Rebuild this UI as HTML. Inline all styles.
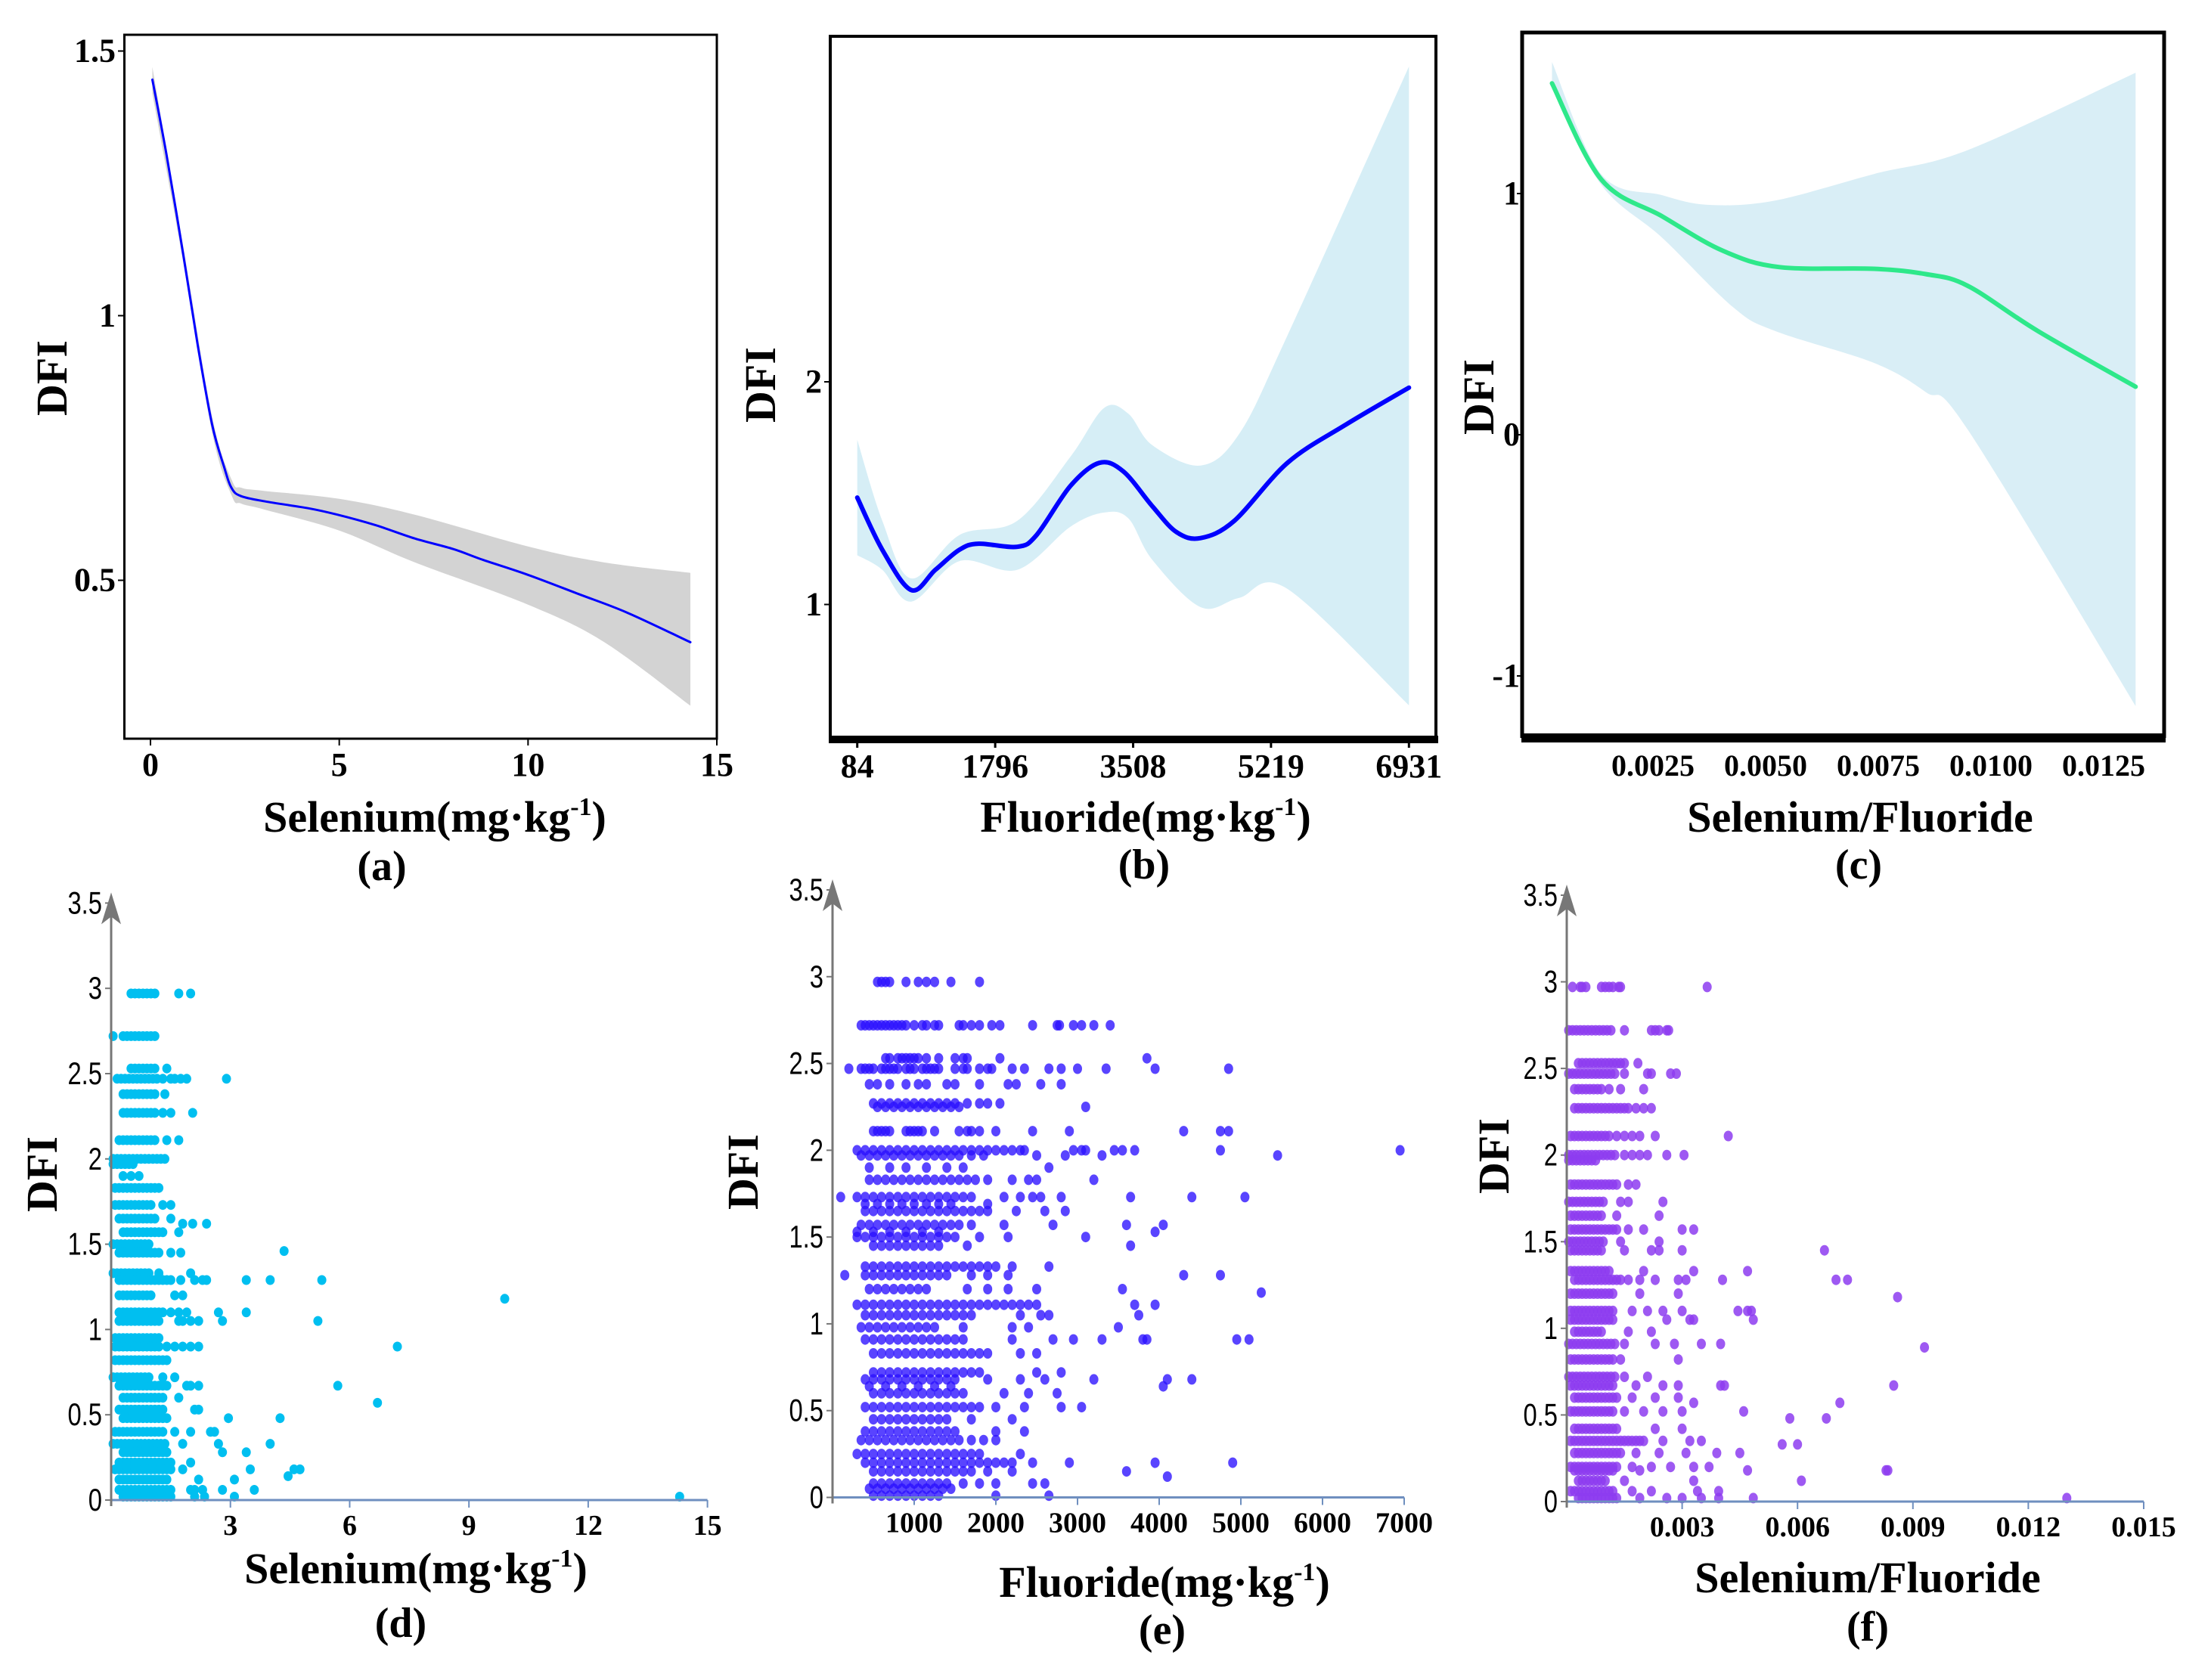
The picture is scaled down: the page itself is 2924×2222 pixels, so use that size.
<!DOCTYPE html>
<html><head><meta charset="utf-8"><style>
html,body{margin:0;padding:0;background:#fff;}
svg{display:block;}
.ser{font-family:"Liberation Serif",serif;font-weight:bold;fill:#000;}
.san{font-family:"Liberation Sans Narrow","Liberation Sans",sans-serif;fill:#000;}
</style></head><body>
<svg id="fig" width="2924" height="2222" viewBox="0 0 2924 2222" xmlns="http://www.w3.org/2000/svg">
<rect width="2924" height="2222" fill="#fff"/>
<g id="pa"></g>
<g id="pb"></g>
<g id="pc"></g>
<g id="pd"></g>
<g id="pe"></g>
<g id="pf"></g>
</svg>
<script>
// ---------- Panel (a) data ----------
const aX = [0.05,0.42,0.87,1.25,1.63,1.95,2.15,2.4,3.04,4.19,4.95,5.97,7.0,8.02,8.79,9.97,11.34,12.62,14.3];
const aY = [1.446,1.306,1.115,0.945,0.795,0.714,0.674,0.659,0.649,0.636,0.624,0.604,0.579,0.559,0.539,0.511,0.474,0.439,0.383];
const aBandX = [0.05,0.87,1.63,2.15,2.4,3.0,5.0,7.0,10.0,12.0,14.3];
const aBandHi = [1.47,1.13,0.81,0.69,0.675,0.669,0.654,0.624,0.564,0.534,0.514];
const aBandLo = [1.42,1.10,0.78,0.66,0.645,0.634,0.594,0.534,0.454,0.384,0.263];
const aXTicks = [0,5,10,15];
const aYTicks = [0.5,1,1.5];
const aYTickLabels = ['0.5','1','1.5'];
// ---------- Panel (b) data ----------
const bX = [84,395,754,1054,1353,1592,2071,2310,2729,3088,3388,3747,4046,4345,4764,5423,6141,6931];
const bY = [1.48,1.246,1.065,1.156,1.246,1.273,1.259,1.312,1.532,1.636,1.597,1.441,1.325,1.298,1.376,1.636,1.806,1.974];
const bBandX = [84,395,754,1353,2071,2729,3148,3448,3747,4345,4824,5423,6931];
const bBandHi = [1.74,1.376,1.117,1.312,1.376,1.663,1.883,1.857,1.715,1.624,1.766,2.208,3.416];
const bBandLo = [1.221,1.156,1.013,1.195,1.156,1.349,1.413,1.387,1.20,0.988,1.03,1.07,0.547];
const bXTicks = [84,1796,3508,5219,6931];
const bYTicks = [1,2];
// ---------- Panel (c) data (x in units of 0.001) ----------
const cX = [0.26,1.35,2.71,4.06,5.31,7.40,8.55,9.48,11.04,13.21];
const cY = [1.457,1.059,0.905,0.762,0.695,0.688,0.666,0.618,0.430,0.199];
const cHiX = [0.26,1.35,2.71,3.75,5.21,7.40,9.48,13.21];
const cBandHi = [1.545,1.081,0.993,0.953,0.971,1.081,1.18,1.501];
const cLoX = [0.26,1.35,2.71,4.27,5.21,7.40,8.55,9.48,13.21];
const cBandLo = [1.435,1.037,0.816,0.53,0.43,0.298,0.177,0.023,-1.125];
const cXTicks = [2.5,5.0,7.5,10.0,12.5];
const cXTickLabels = ['0.0025','0.0050','0.0075','0.0100','0.0125'];
const cYTicks = [-1,0,1];
// ---------- Panel (d) scatter rows ----------
const dRowY = [2.97,2.72,2.53,2.47,2.38,2.27,2.11,2.0,1.97,1.9,1.83,1.73,1.65,1.62,1.57,1.5,1.46,1.45,1.33,1.29,1.2,1.18,1.1,1.05,0.95,0.9,0.82,0.72,0.67,0.6,0.57,0.53,0.48,0.4,0.33,0.28,0.22,0.18,0.14,0.12,0.06,0.02];
const dRowX = [
[0.5,0.6,0.7,0.8,0.9,1.0,1.1,1.7,2.0],
[0.05,0.3,0.4,0.5,0.6,0.7,0.8,0.9,1.0,1.1],
[0.5,0.6,0.7,0.8,0.9,1.0,1.1,1.4],
[0.15,0.25,0.35,0.45,0.55,0.65,0.75,0.85,0.95,1.05,1.15,1.3,1.5,1.6,1.75,1.9,2.9],
[0.3,0.4,0.5,0.6,0.7,0.8,0.9,1.0,1.1,1.35],
[0.3,0.4,0.5,0.6,0.7,0.8,0.9,1.0,1.1,1.3,1.5,2.05],
[0.2,0.3,0.4,0.5,0.6,0.7,0.8,0.9,1.0,1.1,1.4,1.7],
[0.05,0.15,0.25,0.35,0.45,0.55,0.65,0.75,0.85,0.95,1.05,1.15,1.25,1.35],
[0.05,0.15,0.25,0.35,0.45,0.55],
[0.3,0.5,0.7],
[0.1,0.2,0.3,0.4,0.5,0.6,0.7,0.8,0.9,1.0,1.1,1.2],
[0.1,0.2,0.3,0.4,0.5,0.6,0.7,0.8,0.9,1.0,1.3,1.5],
[0.2,0.3,0.4,0.5,0.6,0.7,0.8,0.9,1.0,1.1,1.5],
[1.8,2.05,2.4],
[0.3,0.4,0.5,0.6,0.7,0.8,0.9,1.0,1.1,1.2,1.3,1.7],
[0.05,0.15,0.25,0.35,0.45,0.55,0.65,0.75,0.85,0.95],
[4.35],
[0.2,0.3,0.4,0.5,0.6,0.7,0.8,0.9,1.0,1.1,1.2,1.5,1.75],
[0.05,0.15,0.25,0.35,0.45,0.55,0.65,0.75,0.85,0.95,1.2,2.0],
[0.2,0.3,0.4,0.5,0.6,0.7,0.8,0.9,1.0,1.1,1.2,1.3,1.4,1.5,1.75,2.1,2.3,2.4,3.4,4.0,5.3],
[0.2,0.3,0.4,0.5,0.6,0.7,0.8,0.9,1.0,1.6,1.8],
[9.9],
[0.2,0.3,0.4,0.5,0.6,0.7,0.8,0.9,1.0,1.1,1.2,1.3,1.5,1.7,1.9,2.7,3.4],
[0.2,0.3,0.4,0.5,0.6,0.7,0.8,0.9,1.0,1.1,1.2,1.7,1.8,2.0,2.2,2.8,5.2],
[0.1,0.2,0.3,0.4,0.5,0.6,0.7,0.8,0.9,1.0,1.1,1.2],
[0.1,0.2,0.3,0.4,0.5,0.6,0.7,0.8,0.9,1.0,1.1,1.2,1.4,1.6,1.8,2.0,2.2,7.2],
[0.1,0.2,0.3,0.4,0.5,0.6,0.7,0.8,0.9,1.0,1.1,1.2,1.3,1.4],
[0.05,0.15,0.25,0.35,0.45,0.55,0.65,0.75,0.85,0.95,1.3,1.6],
[0.2,0.3,0.4,0.5,0.6,0.7,0.8,0.9,1.0,1.1,1.2,1.3,1.4,1.9,2.0,2.2,5.7],
[0.3,0.4,0.5,0.6,0.7,0.8,0.9,1.0,1.1,1.2,1.3,1.7],
[6.7],
[0.2,0.3,0.4,0.5,0.6,0.7,0.8,0.9,1.0,1.1,1.2,1.3,2.1,2.2],
[0.3,0.4,0.5,0.6,0.7,0.8,0.9,1.0,1.1,1.2,1.3,1.4,2.95,4.25],
[0.1,0.2,0.3,0.4,0.5,0.6,0.7,0.8,0.9,1.0,1.1,1.2,1.3,1.6,2.0,2.5,2.6],
[0.05,0.15,0.25,0.35,0.45,0.55,0.65,0.75,0.85,0.95,1.05,1.15,1.25,1.35,1.8,2.7,4.0],
[0.3,0.4,0.5,0.6,0.7,0.8,0.9,1.0,1.1,1.2,1.3,1.4,2.8,3.4],
[0.2,0.3,0.4,0.5,0.6,0.7,0.8,0.9,1.0,1.1,1.2,1.3,1.4,1.5,2.0],
[0.1,0.2,0.3,0.4,0.5,0.6,0.7,0.8,0.9,1.0,1.1,1.2,1.3,1.4,1.5,1.8,3.5,4.6,4.75],
[4.45],
[0.2,0.3,0.4,0.5,0.6,0.7,0.8,0.9,1.0,1.1,1.2,1.3,1.4,2.2,3.1],
[0.2,0.3,0.4,0.5,0.6,0.7,0.8,0.9,1.0,1.1,1.2,1.3,1.4,1.5,2.0,2.1,2.3,2.8,3.6],
[0.3,0.4,0.5,0.6,0.7,0.8,0.9,1.0,1.1,1.2,1.3,1.4,1.5,2.1,2.35,3.1,14.3]
];
const dXTicks = [3,6,9,12,15];
// ---------- Panel (e) scatter rows ----------
const eRowY = [2.97,2.72,2.53,2.47,2.38,2.27,2.25,2.11,2.0,1.97,1.9,1.83,1.73,1.69,1.65,1.57,1.53,1.5,1.45,1.33,1.28,1.2,1.18,1.11,1.05,0.98,0.91,0.83,0.72,0.68,0.64,0.6,0.52,0.45,0.38,0.33,0.25,0.2,0.15,0.12,0.08,0.05,0.01];
const eRowX = [
[550,600,650,700,900,1050,1150,1250,1450,1800],
[350,400,450,500,550,600,650,700,750,800,850,900,1000,1100,1150,1250,1300,1550,1600,1700,1800,1950,2050,2450,2750,2780,2950,3050,3200,3400],
[650,700,800,850,900,950,1000,1050,1150,1300,1500,1600,1650,2050,3850],
[200,350,400,450,500,600,650,700,750,800,900,950,1000,1100,1150,1200,1250,1300,1500,1600,1650,1800,1900,1950,2200,2350,2650,2800,3000,3350,3950,4850],
[450,550,700,900,1050,1150,1400,1500,1800,2150,2250,2550,2800],
[500,600,700,800,900,1000,1100,1200,1300,1400,1500,1650,1800,1900,2050],
[550,650,750,850,950,1050,1150,1250,1350,1450,1550,3100],
[500,550,600,650,700,900,950,1000,1050,1100,1250,1550,1650,1700,1800,2000,2450,2900,4300,4750,4850],
[300,400,500,600,700,800,900,1000,1100,1200,1300,1400,1500,1600,1700,1800,1900,2000,2100,2200,2300,2350,2950,3050,3100,3450,3550,3700,4750,6950],
[350,450,550,650,750,850,950,1050,1150,1250,1350,1450,1550,1700,1850,2500,2850,3300,5450],
[450,700,900,1150,1400,1600,2650],
[450,550,650,750,850,950,1050,1150,1250,1350,1450,1550,1650,1750,1900,2200,2400,2500,3200],
[100,300,400,500,600,700,800,900,1000,1100,1200,1300,1400,1500,1600,1700,2100,2300,2450,2550,2800,3650,4400,5050],
[400,550,700,850,1000,1150,1300,1450,1900],
[400,500,600,700,800,900,1000,1100,1200,1300,1400,1500,1600,1700,1800,1900,2250,2600,2850],
[350,450,550,650,750,850,950,1050,1150,1250,1350,1450,1550,1700,2100,2700,3600,4050],
[300,500,700,900,1100,1300,3950],
[300,400,500,600,700,800,900,1000,1100,1200,1300,1400,1500,1800,2150,3100],
[500,600,700,800,900,1000,1100,1200,1300,1650,3650],
[400,500,600,700,800,900,1000,1100,1200,1300,1400,1500,1600,1700,1800,1900,2000,2200,2650],
[150,400,500,600,700,800,900,1000,1100,1200,1300,1400,1700,1900,2150,4300,4750],
[450,550,650,750,850,950,1050,1150,1650,1900,2150,2500,3550],
[5250],
[300,400,500,600,700,800,900,1000,1100,1200,1300,1400,1500,1600,1700,1800,1900,2000,2100,2200,2300,2400,2500,3700,3950],
[400,500,600,700,800,900,1000,1100,1200,1300,1400,1500,1600,1700,2300,2550,2650,3750],
[350,450,550,650,750,850,950,1050,1150,1250,1600,2200,2400,3500],
[400,500,600,700,800,900,1000,1100,1200,1300,1400,1500,1600,2200,2700,2950,3300,3800,3850,4950,5100],
[500,600,700,800,900,1000,1100,1200,1300,1400,1500,1600,1700,1800,1900,2300,2500],
[500,600,700,800,900,1000,1100,1200,1300,1400,1500,1600,1700,1800,2500,2800],
[400,500,600,700,800,900,1000,1100,1200,1300,1400,1500,1900,2300,2600,3200,4100,4400],
[450,650,850,1050,1250,1450,4050],
[500,600,700,800,900,1000,1100,1200,1300,1400,1500,1600,2100,2400,2750],
[400,500,600,700,800,900,1000,1100,1200,1300,1400,1500,1600,1700,1800,2000,2350,2800,3050],
[500,600,700,800,900,1000,1100,1200,1300,1400,1700,2200],
[400,500,600,700,800,900,1000,1100,1200,1300,1400,1500,2000,2350],
[350,450,550,650,750,850,950,1050,1150,1250,1350,1450,1550,1700,1850,2000],
[300,400,500,600,700,800,900,1000,1100,1200,1300,1400,1500,1600,1700,1800,2300],
[400,500,600,700,800,900,1000,1100,1200,1300,1400,1500,1600,1700,1800,1900,2000,2100,2200,2450,2900,3950,4900],
[500,600,700,800,900,1000,1100,1200,1300,1400,1500,1600,1700,1900,2200,3600],
[4100],
[500,600,700,800,900,1000,1100,1200,1300,1400,1600,1800,2000,2450,2600],
[450,550,650,750,850,950,1050,1150,1250,1350,1450],
[500,600,700,800,900,1000,1100,1200,1300,2000,2650]
];
const eXTicks = [1000,2000,3000,4000,5000,6000,7000];
// ---------- Panel (f) scatter rows (x in units of 0.001) ----------
const fRowY = [2.97,2.72,2.53,2.47,2.38,2.27,2.11,2.0,1.97,1.83,1.73,1.65,1.57,1.5,1.45,1.33,1.28,1.2,1.18,1.1,1.05,0.98,0.91,0.89,0.82,0.72,0.67,0.6,0.57,0.52,0.48,0.42,0.35,0.33,0.28,0.2,0.18,0.12,0.06,0.02];
const fRowX = [
[0.15,0.35,0.4,0.5,0.9,1.0,1.1,1.2,1.35,1.4,3.65],
[0.05,0.15,0.25,0.35,0.45,0.55,0.65,0.75,0.85,0.95,1.05,1.15,1.5,2.2,2.3,2.4,2.6,2.65],
[0.3,0.4,0.5,0.6,0.7,0.8,0.9,1.0,1.1,1.2,1.3,1.4,1.5,1.85],
[0.05,0.15,0.25,0.35,0.45,0.55,0.65,0.75,0.85,0.95,1.05,1.15,1.25,1.5,2.1,2.2,2.7,2.85],
[0.2,0.3,0.4,0.5,0.6,0.7,0.8,0.9,1.1,1.4,2.0],
[0.2,0.3,0.4,0.5,0.6,0.7,0.8,0.9,1.0,1.1,1.2,1.3,1.4,1.5,1.6,1.8,2.0,2.2],
[0.1,0.2,0.3,0.4,0.5,0.6,0.7,0.8,0.9,1.0,1.1,1.3,1.5,1.7,1.9,2.3,4.2],
[0.05,0.15,0.25,0.35,0.45,0.55,0.65,0.75,0.85,0.95,1.05,1.15,1.25,1.5,1.7,1.9,2.1,2.6,3.05],
[0.05,0.15,0.25,0.35,0.45,0.55,0.65,0.75],
[0.1,0.2,0.3,0.4,0.5,0.6,0.7,0.8,0.9,1.0,1.1,1.2,1.3,1.6,1.8],
[0.05,0.15,0.25,0.35,0.45,0.55,0.65,0.75,0.85,0.95,1.4,1.6,2.5],
[0.1,0.2,0.3,0.4,0.5,0.6,0.7,0.8,0.9,1.3,2.4],
[0.1,0.2,0.3,0.4,0.5,0.6,0.7,0.8,0.9,1.0,1.1,1.2,1.3,1.6,2.0,3.0,3.3],
[0.05,0.15,0.25,0.35,0.45,0.55,0.65,0.75,0.85,0.95,1.4,2.4],
[0.1,0.2,0.3,0.4,0.5,0.6,0.7,0.8,0.9,1.5,2.2,2.4,3.0,6.7],
[0.1,0.2,0.3,0.4,0.5,0.6,0.7,0.8,0.9,1.0,1.1,2.0,3.3,4.7],
[0.2,0.3,0.4,0.5,0.6,0.7,0.8,0.9,1.0,1.1,1.2,1.3,1.4,1.6,1.9,2.3,2.9,3.1,4.05,7.0,7.3],
[0.1,0.2,0.3,0.4,0.5,0.6,0.7,0.8,0.9,1.0,1.1,1.2,1.9,2.9],
[8.6],
[0.1,0.2,0.3,0.4,0.5,0.6,0.7,0.8,0.9,1.0,1.1,1.2,1.7,2.1,2.5,3.0,4.45,4.7,4.8],
[0.1,0.2,0.3,0.4,0.5,0.6,0.7,0.8,0.9,1.0,1.1,1.2,2.6,3.2,3.3,4.85],
[0.2,0.3,0.4,0.5,0.6,0.7,0.8,0.9,1.6,2.2],
[0.05,0.15,0.25,0.35,0.45,0.55,0.65,0.75,0.85,0.95,1.05,1.15,1.25,1.5,2.3,2.8,3.5,4.0],
[9.3],
[0.1,0.2,0.3,0.4,0.5,0.6,0.7,0.8,0.9,1.0,1.1,1.2,1.4,2.9],
[0.05,0.15,0.25,0.35,0.45,0.55,0.65,0.75,0.85,0.95,1.05,1.15,1.25,1.5,2.1],
[0.1,0.2,0.3,0.4,0.5,0.6,0.7,0.8,0.9,1.0,1.1,1.2,1.8,2.5,2.9,4.0,4.1,8.5],
[0.2,0.3,0.4,0.5,0.6,0.7,0.8,0.9,1.0,1.1,1.2,1.3,1.7,2.3,2.9],
[3.3,7.1],
[0.1,0.2,0.3,0.4,0.5,0.6,0.7,0.8,0.9,1.0,1.1,1.2,1.5,2.0,2.5,3.0,4.6],
[5.8,6.75],
[0.2,0.3,0.4,0.5,0.6,0.7,0.8,0.9,1.0,1.1,1.2,1.3,2.3,3.0],
[0.1,0.2,0.3,0.4,0.5,0.6,0.7,0.8,0.9,1.0,1.1,1.2,1.3,1.4,1.5,1.6,1.7,1.8,1.9,2.0,2.5,3.2,3.5],
[5.6,6.0],
[0.2,0.3,0.4,0.5,0.6,0.7,0.8,0.9,1.0,1.1,1.2,1.3,1.4,1.8,2.4,3.1,3.9,4.5],
[0.1,0.2,0.3,0.4,0.5,0.6,0.7,0.8,0.9,1.0,1.1,1.2,1.3,1.7,2.2,2.7,3.3,3.7],
[0.2,0.3,0.4,0.5,0.6,0.7,0.8,0.9,1.0,1.1,1.2,1.9,4.7,8.3,8.35],
[0.3,0.4,0.5,0.6,0.7,0.8,0.9,1.0,1.5,3.3,6.1],
[0.1,0.2,0.3,0.4,0.5,0.6,0.7,0.8,0.9,1.0,1.1,1.2,1.7,2.2,3.4,3.95],
[0.3,0.4,0.5,0.6,0.7,0.8,0.9,1.0,1.1,1.2,1.3,1.9,2.6,3.0,3.5,3.95,4.85,13.0]
];
const fXTicks = [3,6,9,12,15];
const fXTickLabels = ['0.003','0.006','0.009','0.012','0.015'];
const scatYTicks = [0,0.5,1,1.5,2,2.5,3,3.5];
const scatYTickLabels = ['0','0.5','1','1.5','2','2.5','3','3.5'];

const NS='http://www.w3.org/2000/svg';
function mk(parent,tag,attrs,text){const e=document.createElementNS(NS,tag);for(const k in attrs)e.setAttribute(k,attrs[k]);if(text!==undefined)e.textContent=text;parent.appendChild(e);return e;}
function lin(d0,d1,r0,r1){return v=>r0+(v-d0)*(r1-r0)/(d1-d0);}
function smooth(pts){let d='M'+pts[0][0].toFixed(1)+','+pts[0][1].toFixed(1);for(let i=0;i<pts.length-1;i++){const p0=pts[i-1]||pts[i],p1=pts[i],p2=pts[i+1],p3=pts[i+2]||p2;const c1=[p1[0]+(p2[0]-p0[0])/6,p1[1]+(p2[1]-p0[1])/6],c2=[p2[0]-(p3[0]-p1[0])/6,p2[1]-(p3[1]-p1[1])/6];d+='C'+c1[0].toFixed(1)+','+c1[1].toFixed(1)+' '+c2[0].toFixed(1)+','+c2[1].toFixed(1)+' '+p2[0].toFixed(1)+','+p2[1].toFixed(1);}return d;}
function smoothCont(pts){return smooth(pts).replace(/^M/,'L');}
function band2(g,xh,hi,xl,lo,sx,sy,fill,name){const up=xh.map((x,i)=>[sx(x),sy(hi[i])]);const dn=xl.map((x,i)=>[sx(x),sy(lo[i])]).reverse();const p=mk(g,'path',{d:smooth(up)+smoothCont(dn)+'Z',fill:fill,stroke:'none'});

}
function band(g,xs,hi,lo,sx,sy,fill,name){band2(g,xs,hi,xs,lo,sx,sy,fill,name);}
function line(g,xs,ys,sx,sy,color,w,name){const p=mk(g,'path',{d:smooth(xs.map((x,i)=>[sx(x),sy(ys[i])])),fill:'none',stroke:color,'stroke-width':w,'stroke-linejoin':'round','stroke-linecap':'round'});

}
function txt(g,x,y,s,cls,size,anchor,name,extra){const t=mk(g,'text',Object.assign({x:x,y:y,class:cls,'font-size':size,'text-anchor':anchor||'middle'},extra||{}),s);

return t;}
function unitTitle(g,cx,cy,word,name){const t=mk(g,'text',{x:cx,y:cy,class:'ser','font-size':58,'text-anchor':'middle'});


t.appendChild(document.createTextNode(word+'(mg·kg'));mk(t,'tspan',{'font-size':34,dy:-22},'-1');mk(t,'tspan',{dy:22},')');return t;}
function ylab(g,x,y,name){return txt(g,x,y,'DFI','ser',58,'middle',name,{transform:'rotate(-90 '+x+' '+y+')'});}

// ===== Panel (a) =====
(function(){const g=document.getElementById('pa');
const sx=lin(0,15,199,948), sy=lin(1,0.5,417.5,767.5);
band(g,aBandX,aBandHi,aBandLo,sx,sy,'#d3d3d3','confidence-band-a');
line(g,aX,aY,sx,sy,'#0000ff',3,'smooth-curve-a');
const r=mk(g,'rect',{x:164.5,y:46,width:783.5,height:931,fill:'none',stroke:'#000','stroke-width':3});


aXTicks.forEach(v=>{mk(g,'line',{x1:sx(v),x2:sx(v),y1:977,y2:986,stroke:'#000','stroke-width':2});txt(g,sx(v),1026,String(v),'ser',44,'middle','x-tick-label-a');});
aYTicks.forEach((v,i)=>{mk(g,'line',{x1:156,x2:164,y1:sy(v),y2:sy(v),stroke:'#000','stroke-width':2});txt(g,153,sy(v)+14,aYTickLabels[i],'ser',44,'end','y-tick-label-a');});
ylab(g,88,500,'y-axis-title-a');
unitTitle(g,575,1100,'Selenium','x-axis-title-a');
txt(g,505,1164,'(a)','ser',56,'middle','panel-label-a');
})();
// ===== Panel (b) =====
(function(){const g=document.getElementById('pb');
const sx=lin(84,6931,1133.7,1863.3), sy=lin(2,1,505,799.5);
band(g,bBandX,bBandHi,bBandLo,sx,sy,'#d6eef6','confidence-band-b');
line(g,bX,bY,sx,sy,'#0000ff',6,'smooth-curve-b');
const f=mk(g,'path',{d:'M1098,976 L1098,48 L1899,48 L1899,976',fill:'none',stroke:'#000','stroke-width':4});


mk(g,'rect',{x:1096,y:973,width:806,height:10,fill:'#000'});
bXTicks.forEach(v=>{mk(g,'line',{x1:sx(v),x2:sx(v),y1:980,y2:989,stroke:'#000','stroke-width':3});txt(g,sx(v),1028,String(v),'ser',44,'middle','x-tick-label-b');});
bYTicks.forEach(v=>{mk(g,'line',{x1:1090,x2:1097,y1:sy(v),y2:sy(v),stroke:'#000','stroke-width':2});txt(g,1076,sy(v)+14,String(v),'ser',44,'middle','y-tick-label-b');});
ylab(g,1025,509,'y-axis-title-b');
unitTitle(g,1515,1100,'Fluoride','x-axis-title-b');
txt(g,1513,1162,'(b)','ser',56,'middle','panel-label-b');
})();
// ===== Panel (c) =====
(function(){const g=document.getElementById('pc');
const sx=lin(0,2.5,2037,2186), sy=lin(1,0,256,575);
band2(g,cHiX,cBandHi,cLoX,cBandLo,sx,sy,'#d9eef6','confidence-band-c');
line(g,cX,cY,sx,sy,'#2ee88a',6,'smooth-curve-c');
const f=mk(g,'path',{d:'M2013,976 L2013,43 L2862,43 L2862,976',fill:'none',stroke:'#000','stroke-width':5});


mk(g,'rect',{x:2012,y:970,width:852,height:12,fill:'#000'});
cXTicks.forEach((v,i)=>{txt(g,sx(v),1026,cXTickLabels[i],'ser',40,'middle','x-tick-label-c');});
cYTicks.forEach(v=>{mk(g,'line',{x1:2006,x2:2013,y1:sy(v),y2:sy(v),stroke:'#000','stroke-width':2});txt(g,2010,sy(v)+14,String(v),'ser',44,'end','y-tick-label-c');});
ylab(g,1975,525,'y-axis-title-c');
txt(g,2460,1100,'Selenium/Fluoride','ser',58,'middle','x-axis-title-c');
txt(g,2458,1162,'(c)','ser',56,'middle','panel-label-c');
})();
// ===== Scatter helper =====
function scatter(g,key,ox,xEnd,y0,y35,xMax,rowY,rowX,xTicks,xLabels,color,rx,ry,op){
const sx=lin(0,xMax,ox,xEnd), sy=lin(0,3.5,y0,y35);
scatYTicks.forEach((v,i)=>{mk(g,'line',{x1:ox-8,x2:ox,y1:sy(v),y2:sy(v),stroke:'#777','stroke-width':2});txt(g,ox-12,sy(v)+14,scatYTickLabels[i],'san',42,'end','y-tick-label-'+key,{transform:'translate('+(ox-12)+' 0) scale(0.78 1) translate('+(-(ox-12))+' 0)'});});
const dots=mk(g,'g',{fill:color,'fill-opacity':op});


rowY.forEach((y,i)=>{rowX[i].forEach(x=>{mk(dots,'ellipse',{cx:sx(x).toFixed(1),cy:sy(y).toFixed(1),rx:rx,ry:ry});});});
const xa=mk(g,'line',{x1:ox,x2:xEnd,y1:y0,y2:y0,stroke:'#6f8fbf','stroke-width':3});


xTicks.forEach((v,i)=>{mk(g,'line',{x1:sx(v),x2:sx(v),y1:y0,y2:y0+10,stroke:'#6f8fbf','stroke-width':2});txt(g,sx(v),y0+46,xLabels[i],'ser',38,'middle','x-tick-label-'+key);});
const ya=mk(g,'line',{x1:ox,x2:ox,y1:y0+8,y2:y35+6,stroke:'#777','stroke-width':3});


const ar=mk(g,'path',{d:'M'+ox+','+(y35-14)+' L'+(ox+13)+','+(y35+28)+' L'+ox+','+(y35+18)+' L'+(ox-13)+','+(y35+28)+'Z',fill:'#777'});


}
// ===== Panel (d) =====
(function(){const g=document.getElementById('pd');
scatter(g,'d',147,935.6,1984,1194.4,15,dRowY,dRowX,dXTicks,dXTicks.map(String),'#00bff0',6,6.5,1);
ylab(g,75,1553,'y-axis-title-d');
unitTitle(g,550,2094,'Selenium','x-axis-title-d');
txt(g,530,2165,'(d)','ser',56,'middle','panel-label-d');
})();
// ===== Panel (e) =====
(function(){const g=document.getElementById('pe');
scatter(g,'e',1101,1857,1980.5,1177,7000,eRowY,eRowX,eXTicks,eXTicks.map(String),'#2a10ff',6,7,0.78);
ylab(g,1002,1550,'y-axis-title-e');
unitTitle(g,1540,2112,'Fluoride','x-axis-title-e');
txt(g,1537,2174,'(e)','ser',56,'middle','panel-label-e');
})();
// ===== Panel (f) =====
(function(){const g=document.getElementById('pf');
scatter(g,'f',2072,2835,1986,1184,15,fRowY,fRowX,fXTicks,fXTickLabels,'#8d3cf0',6,7,0.85);
ylab(g,1995,1529,'y-axis-title-f');
txt(g,2470,2106,'Selenium/Fluoride','ser',58,'middle','x-axis-title-f');
txt(g,2470,2170,'(f)','ser',56,'middle','panel-label-f');
})();
</script>
</body></html>
